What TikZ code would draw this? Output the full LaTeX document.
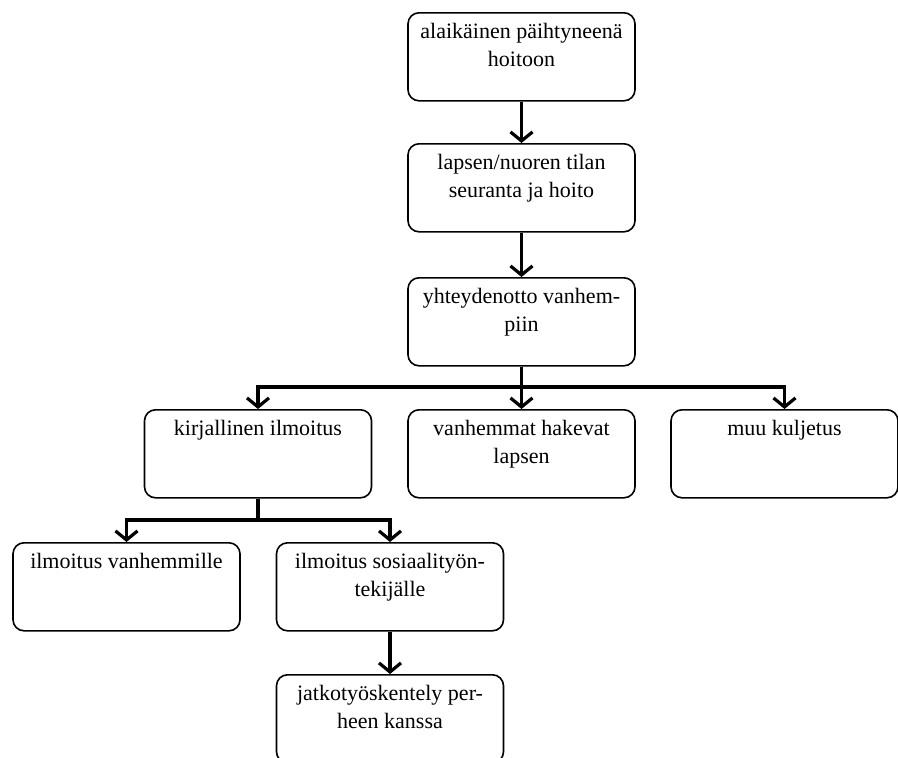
\documentclass[tikz,border=0pt]{standalone}
\usepackage{fontspec}
\setmainfont{Liberation Serif}
\usetikzlibrary{arrows.meta}
\newcommand{\bxtext}[1]{\parbox[c][76pt][t]{217pt}{\centering\fontsize{22pt}{28pt}\selectfont\strut #1}}
\tikzset{
  flowbox/.style={draw, line width=1.6pt, rounded corners=11pt, inner xsep=5pt, inner ysep=6pt, anchor=north, minimum width=227pt, minimum height=88pt},
  flowline/.style={line width=3.2pt},
  flowarr/.style={line width=3.2pt, -{Straight Barb[length=9pt,width=22pt,line width=3.2pt]}}
}
\begin{document}
\begin{tikzpicture}[x=1pt,y=-1pt]
\useasboundingbox (0,0) rectangle (898,758);
\clip (0,0) rectangle (898,758);
\node[flowbox] (b1) at (521.5,12) {\bxtext{alaikäinen päihtyneenä\\hoitoon}};
\node[flowbox] (b2) at (521.5,143) {\bxtext{lapsen/nuoren tilan\\seuranta ja hoito}};
\node[flowbox] (b3) at (521.5,277) {\bxtext{yhteydenotto vanhem-\\piin}};
\node[flowbox] (k) at (258,409) {\bxtext{kirjallinen ilmoitus}};
\node[flowbox] (v) at (521.5,409) {\bxtext{vanhemmat hakevat\\lapsen}};
\node[flowbox] (m) at (784.5,409) {\bxtext{muu kuljetus}};
\node[flowbox] (iv) at (126.5,542) {\bxtext{ilmoitus vanhemmille}};
\node[flowbox] (is) at (390,542) {\bxtext{ilmoitus sosiaalityön-\\tekijälle}};
\node[flowbox] (j) at (390,674) {\bxtext{jatkotyöskentely per-\\heen kanssa}};
\coordinate (s1) at (521.5,387);
\coordinate (s2) at (258,520);
\draw[flowarr] (b1) -- (b2);
\draw[flowarr] (b2) -- (b3);
\draw[flowline] (b3.south) -- (s1);
\draw[flowarr] (s1) -| (k.north);
\draw[flowarr] (s1) -- (v.north);
\draw[flowarr] (s1) -| (m.north);
\draw[flowline] (k.south) -- (s2);
\draw[flowarr] (s2) -| (iv.north);
\draw[flowarr] (s2) -| (is.north);
\draw[flowarr] (is) -- (j);
\end{tikzpicture}
\end{document}
